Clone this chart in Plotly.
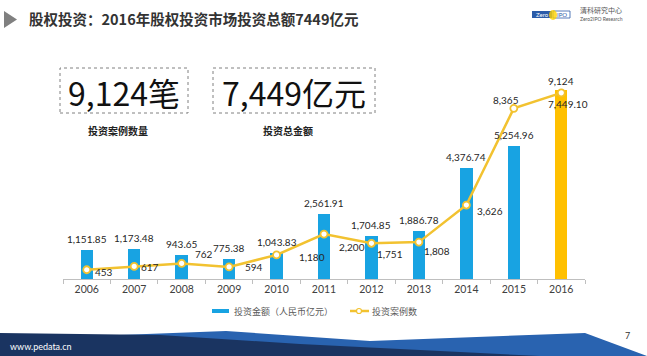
import plotly.graph_objects as go

# ---------------- data ----------------
years = ["2006", "2007", "2008", "2009", "2010", "2011", "2012", "2013", "2014", "2015", "2016"]
amount = [1151.85, 1173.48, 943.65, 775.38, 1043.83, 2561.91, 1704.85, 1886.78, 4376.74, 5254.96, 7449.10]
cases = [453, 617, 762, 594, 1180, 2200, 1751, 1808, 3626, 8365, 9124]
amount_name = "投资金额（人民币亿元）"
cases_name = "投资案例数"
title_text = "股权投资：2016年股权投资市场投资总额7449亿元"
kpi_values = ["9,124笔", "7,449亿元"]
kpi_labels = ["投资案例数量", "投资总金额"]
footer_site = "www.pedata.cn"
page_no = "7"

# ---------------- style ----------------
W, H = 647, 356
ML, MR, MT, MB = 63, 62, 70, 77
PW, PH = W - ML - MR, H - MT - MB
BLUE = "#18A3E2"
GOLD_BAR = "#FFC000"
LINE = "#F2C230"
TXT = "#262626"
CJK = "Noto Sans CJK SC"
NUM = "Lato"
LBL = 10


def px(x, y):
    """pixel -> paper coordinates"""
    return (x - ML) / PW, (H - MB - y) / PH


bar_colors = [BLUE] * (len(years) - 1) + [GOLD_BAR]

fig = go.Figure()
fig.add_trace(go.Bar(
    x=years, y=amount, name=amount_name, marker=dict(color=bar_colors, line=dict(width=0)),
    width=0.26, yaxis="y", showlegend=False,
))
fig.add_trace(go.Scatter(
    x=years, y=cases, name=cases_name, yaxis="y2", mode="lines+markers",
    line=dict(color=LINE, width=2.5), showlegend=False,
    marker=dict(size=7, color="white", line=dict(color=LINE, width=1.8)),
))

ann = []
# bar labels (x given as category index)
for i, v in enumerate(amount):
    last = i == len(amount) - 1
    ann.append(dict(x=i, y=v, xref="x", yref="y", text=f"{v:,.2f}", showarrow=False,
                    xanchor="center", yanchor="middle" if last else "bottom",
                    xshift=7 if last else 0, yshift=-14 if last else 3,
                    font=dict(family=NUM, size=LBL, color=TXT)))
# line label offsets (xanchor, xshift, yshift)
line_off = [("left", 6, -2), ("left", 5, -1), ("left", 11, 9), ("left", 14, 0), ("left", 20, -2),
            ("left", 13, -13), ("left", 4, -11), ("left", 3, -9), ("left", 9, -6),
            ("center", -8, 8), ("center", 0, 12)]
for i, (v, (xa, xs, ys)) in enumerate(zip(cases, line_off)):
    ann.append(dict(x=i, y=v, xref="x", yref="y2", text=f"{v:,}", showarrow=False,
                    xanchor=xa, yanchor="middle", xshift=xs, yshift=ys,
                    font=dict(family=NUM, size=LBL, color=TXT)))

# title
tx, ty = px(27, 19)
ann.append(dict(x=tx, y=ty, xref="paper", yref="paper", text=f"<b>{title_text}</b>", showarrow=False,
                xanchor="left", yanchor="middle", font=dict(family=CJK, size=14.5, color="#333333")))

# KPI boxes
shapes = []
boxes = [(60, 68, 188, 113), (213, 68, 375, 113)]
label_y = 130
for (x0, y0, x1, y1), val, lab in zip(boxes, kpi_values, kpi_labels):
    a0, b0 = px(x0, y0)
    a1, b1 = px(x1, y1)
    shapes.append(dict(type="rect", xref="paper", yref="paper", x0=a0, y0=b1, x1=a1, y1=b0,
                       line=dict(color="#808080", width=1, dash="dot"), fillcolor="rgba(0,0,0,0)"))
    cx, cy = px((x0 + x1) / 2, (y0 + y1) / 2 + 1)
    ann.append(dict(x=cx, y=cy, xref="paper", yref="paper", text=val, showarrow=False,
                    xanchor="center", yanchor="middle", font=dict(family=CJK, size=32, color="#111111")))
    lx, ly = px((x0 + x1) / 2 - 6, label_y)
    ann.append(dict(x=lx, y=ly, xref="paper", yref="paper", text=f"<b>{lab}</b>", showarrow=False,
                    xanchor="center", yanchor="middle", font=dict(family=CJK, size=10, color="#222222")))


def path(points):
    s = ""
    for k, (x, y) in enumerate(points):
        a, b = px(x, y)
        s += ("M" if k == 0 else "L") + f"{a:.5f},{b:.5f} "
    return s + "Z"


def rect(x0, y0, x1, y1, **kw):
    a0, b0 = px(x0, y0)
    a1, b1 = px(x1, y1)
    return dict(xref="paper", yref="paper", x0=a0, y0=b1, x1=a1, y1=b0, **kw)


# title triangle
shapes.append(dict(type="path", xref="paper", yref="paper", path=path([(4, 11), (4, 28), (17, 19.5)]),
                   fillcolor="#808080", line=dict(width=0)))

# legend (manual, compact like the reference)
shapes.append(rect(212, 309, 229, 313, type="rect", fillcolor=BLUE, line=dict(width=0)))
ax_, ay_ = px(232, 311)
ann.append(dict(x=ax_, y=ay_, xref="paper", yref="paper", text=amount_name, showarrow=False,
                xanchor="left", yanchor="middle", font=dict(family=CJK, size=9, color="#595959")))
a0, b0 = px(350, 311)
a1, b1 = px(369, 311)
shapes.append(dict(type="line", xref="paper", yref="paper", x0=a0, y0=b0, x1=a1, y1=b1,
                   line=dict(color=LINE, width=2.5)))
shapes.append(rect(356.5, 308.5, 361.5, 313.5, type="circle", fillcolor="white", line=dict(color=LINE, width=1.2)))
ax_, ay_ = px(370, 311)
ann.append(dict(x=ax_, y=ay_, xref="paper", yref="paper", text=cases_name, showarrow=False,
                xanchor="left", yanchor="middle", font=dict(family=CJK, size=9, color="#595959")))

# footer banner
shapes.append(dict(type="path", xref="paper", yref="paper",
                   path=path([(0, 336), (120, 335), (226, 331), (370, 341), (585, 333), (647, 356), (0, 356)]),
                   fillcolor="#2963B0", line=dict(width=0), layer="above"))
shapes.append(dict(type="path", xref="paper", yref="paper",
                   path=path([(0, 333), (160, 335), (300, 344), (540, 356), (0, 356)]),
                   fillcolor="#1A3461", line=dict(width=0), layer="above"))
fx, fy = px(8, 346)
ann.append(dict(x=fx, y=fy, xref="paper", yref="paper", text=footer_site, showarrow=False,
                xanchor="left", yanchor="middle", font=dict(family=NUM, size=9, color="white")))
pxn, pyn = px(627, 335)
ann.append(dict(x=pxn, y=pyn, xref="paper", yref="paper", text=page_no, showarrow=False,
                xanchor="center", yanchor="middle", font=dict(family=NUM, size=9, color="#333333")))

# logo
shapes.append(rect(532, 11, 552, 18, type="rect", fillcolor="#2B5BA8", line=dict(width=0)))
shapes.append(rect(553, 11, 570, 18, type="rect", fillcolor="white", line=dict(color="#2B5BA8", width=0.8)))
shapes.append(rect(549, 10, 557, 20, type="circle", fillcolor="rgba(255,210,0,0.8)", line=dict(width=0)))
for txt, x, y, sz, col in [("Zero", 542, 14.5, 6, "white"), ("IPO", 562, 14.5, 6, "#2B5BA8"),
                           ("清科研究中心", 578, 10, 7, "#555555"), ("Zero2IPO Research", 578, 19, 5, "#555555")]:
    a, b = px(x, y)
    ann.append(dict(x=a, y=b, xref="paper", yref="paper", text=txt, showarrow=False,
                    xanchor="center" if x < 570 else "left", yanchor="middle",
                    font=dict(family=CJK if txt[0] > "z" else NUM, size=sz, color=col)))

hidden_axis = dict(showticklabels=False, showline=False, showgrid=False, zeroline=False, ticks="")
fig.update_layout(
    width=W, height=H, margin=dict(l=ML, r=MR, t=MT, b=MB, autoexpand=False),
    paper_bgcolor="white", plot_bgcolor="white",
    bargap=0, showlegend=False,
    xaxis=dict(type="category", range=[-0.5, 10.5], showline=True, linecolor="#BFBFBF", linewidth=1,
               ticks="outside", tickson="boundaries", ticklen=4, tickcolor="#BFBFBF",
               showgrid=False, tickfont=dict(family=NUM, size=10.5, color="#404040")),
    yaxis=dict(range=[0, PH / 0.02537], **hidden_axis),
    yaxis2=dict(range=[0, PH / 0.0204], overlaying="y", side="right", **hidden_axis),
    annotations=ann, shapes=shapes,
)

fig.write_html("out.html", config={"displayModeBar": False},
               post_script="document.body.style.margin='0';document.body.style.overflow='hidden';")
